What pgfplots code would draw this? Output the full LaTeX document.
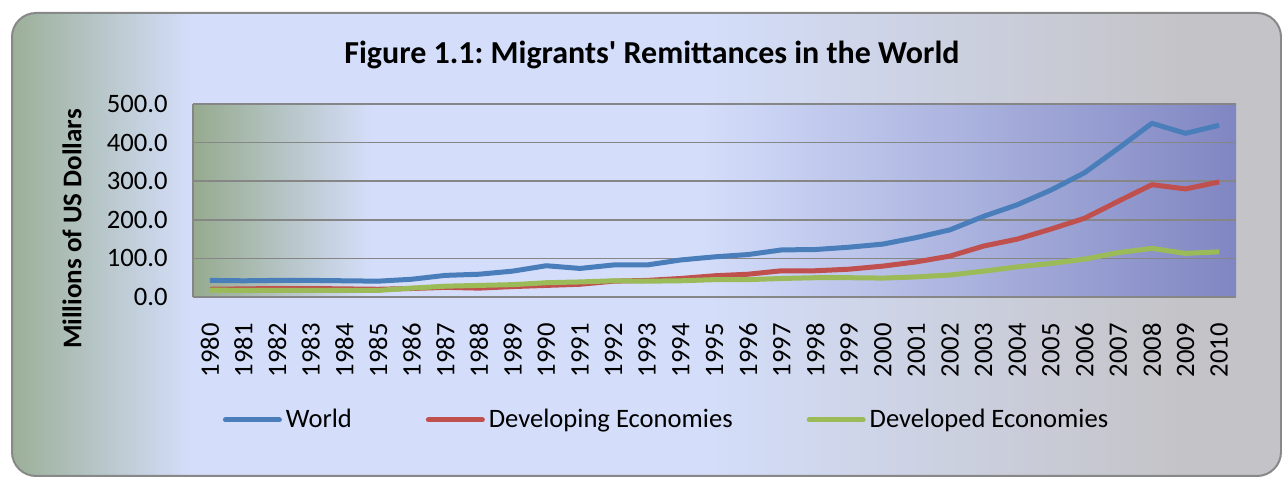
\documentclass[border=0pt]{standalone}
\usepackage{fontspec}
\setmainfont{Carlito}
\newfontfamily\titlefont{Carlito}[Ligatures=TeXOff]
\usepackage{pgfplots}
\pgfplotsset{compat=1.18}
\frenchspacing
\definecolor{og}{RGB}{152,172,146}
\definecolor{lb}{RGB}{212,222,250}
\definecolor{ogr}{RGB}{196,196,200}
\definecolor{pg}{RGB}{150,170,142}
\definecolor{pp}{RGB}{128,134,194}
\definecolor{gridgray}{RGB}{134,134,134}
\definecolor{framegray}{RGB}{136,136,136}
\definecolor{cworld}{RGB}{74,126,187}
\definecolor{cdev}{RGB}{192,80,77}
\definecolor{cdvd}{RGB}{155,187,89}
\begin{document}
\begin{tikzpicture}
\useasboundingbox (0,0) rectangle (641pt,238.5pt);
\begin{scope}
\clip[rounded corners=12pt] (6pt,0.5pt) rectangle (640.5pt,232pt);
\fill[left color=og, right color=lb] (0pt,0pt) rectangle (95.5pt,240pt);
\fill[lb] (95pt,0pt) rectangle (350.5pt,240pt);
\fill[left color=lb, right color=ogr] (350pt,0pt) rectangle (590.5pt,240pt);
\fill[ogr] (590pt,0pt) rectangle (645pt,240pt);
\end{scope}
\draw[framegray, line width=1pt, rounded corners=12pt] (6pt,0.5pt) rectangle (640.5pt,232pt);
\fill[left color=pg, right color=lb] (96.5pt,90pt) rectangle (185.5pt,186.5pt);
\fill[lb] (185pt,90pt) rectangle (350.5pt,186.5pt);
\fill[left color=lb, right color=pp] (350pt,90pt) rectangle (618pt,186.5pt);
\node[font=\titlefont\fontsize{16}{19}\selectfont\bfseries] at (326pt,211pt) {Figure 1.1: Migrants' Remittances in the World};
\node[font=\fontsize{13.5}{16}\selectfont\bfseries, rotate=90] at (36pt,124pt) {Millions of US Dollars};
\begin{axis}[
  at={(96.5pt,90pt)}, anchor=south west,
  scale only axis, width=521.5pt, height=96.5pt,
  xmin=1979.5, xmax=2010.5, ymin=0, ymax=500,
  xtick={1980,1981,...,2010}, ytick={0,100,...,500},
  ymajorgrids, major grid style={gridgray, line width=0.75pt},
  axis x line*=bottom, axis y line*=left,
  axis line style={gridgray, line width=0.75pt},
  tick style={draw=none},
  ticklabel style={font=\fontsize{13.3}{16}\selectfont},
  yticklabel style={/pgf/number format/fixed, /pgf/number format/fixed zerofill, /pgf/number format/precision=1, /pgf/number format/assume math mode=true, inner sep=0pt, xshift=-12.5pt},
  xticklabel style={/pgf/number format/1000 sep={}, /pgf/number format/assume math mode=true, rotate=90, anchor=east, inner sep=0pt, xshift=-13pt},
  legend style={at={(0.455,-0.637)}, anchor=center, draw=none, fill=none,
    font=\fontsize{13.3}{16}\selectfont, legend columns=3,
    /tikz/every even column/.append style={column sep=35pt}},
  legend image code/.code={\draw[#1, line width=2.5pt, line cap=round] (0pt,0pt) -- (27pt,0pt);},
  every axis plot/.append style={line width=2.5pt, line join=round, mark=none},
]
\addplot[cworld] coordinates {(1980,43)(1981,42)(1982,43)(1983,43)(1984,42)(1985,41)(1986,46)(1987,56)(1988,59)(1989,67)(1990,81)(1991,74)(1992,83)(1993,83)(1994,96)(1995,104)(1996,110)(1997,122)(1998,123)(1999,129)(2000,137)(2001,154)(2002,174)(2003,209)(2004,239)(2005,277)(2006,322)(2007,385)(2008,450)(2009,424)(2010,445)};
\addlegendentry{World}
\addplot[cdev] coordinates {(1980,20)(1981,21)(1982,22)(1983,22)(1984,21)(1985,20)(1986,22)(1987,25)(1988,23)(1989,27)(1990,30)(1991,33)(1992,41)(1993,43)(1994,48)(1995,55)(1996,59)(1997,68)(1998,68)(1999,72)(2000,80)(2001,91)(2002,106)(2003,132)(2004,150)(2005,176)(2006,204)(2007,248)(2008,291)(2009,280)(2010,298)};
\addlegendentry{Developing Economies}
\addplot[cdvd] coordinates {(1980,18)(1981,17)(1982,17)(1983,17)(1984,17)(1985,17)(1986,23)(1987,28)(1988,30)(1989,32)(1990,37)(1991,39)(1992,42)(1993,41)(1994,42)(1995,45)(1996,45)(1997,48)(1998,50)(1999,50)(2000,49)(2001,52)(2002,57)(2003,67)(2004,78)(2005,87)(2006,98)(2007,115)(2008,126)(2009,113)(2010,117)};
\addlegendentry{Developed Economies}
\end{axis}
\end{tikzpicture}
\end{document}
